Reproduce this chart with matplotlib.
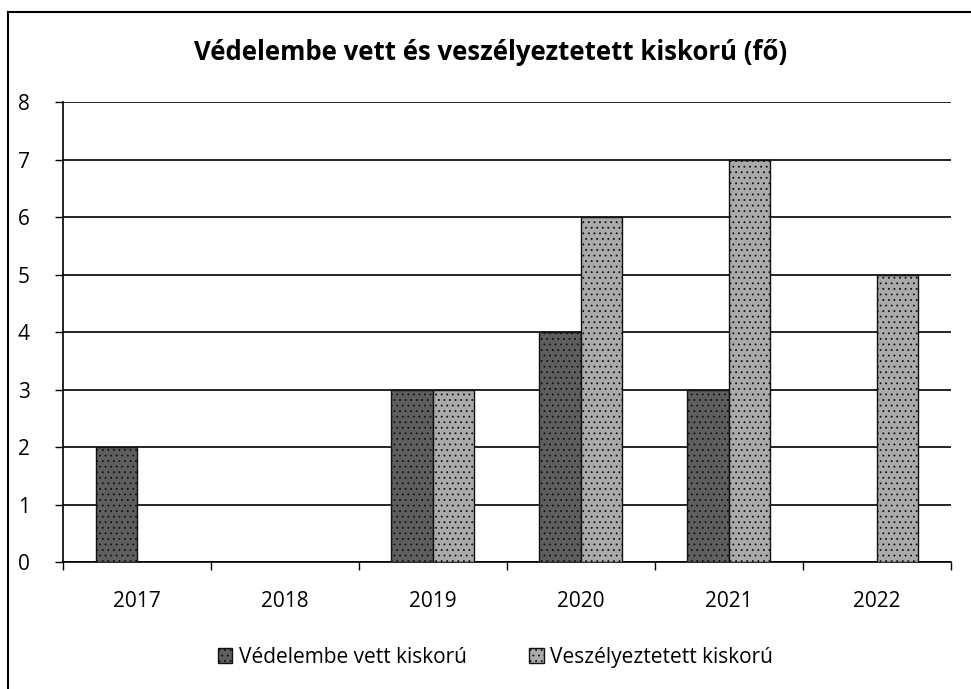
import matplotlib
matplotlib.use("Agg")
import matplotlib.pyplot as plt
from matplotlib.lines import Line2D
import numpy as np

years = ["2017", "2018", "2019", "2020", "2021", "2022"]
vedelembe = [2, 0, 3, 4, 3, 0]
veszelyeztetett = [0, 0, 3, 6, 7, 5]
series_names = ["Védelembe vett kiskorú", "Veszélyeztetett kiskorú"]
title = "Védelembe vett és veszélyeztetett kiskorú (fő)"

plt.rcParams['font.family'] = ['Open Sans', 'DejaVu Sans']
plt.rcParams['hatch.color'] = '#d0d0d0'
plt.rcParams['hatch.linewidth'] = 0.6

fig = plt.figure(figsize=(9.71, 6.89), dpi=100)
ax = fig.add_axes([0.065, 0.184, 0.914, 0.668])

x = np.arange(len(years))
w = 0.28
ax.bar(x - w/2, vedelembe, width=w, color="#5e5e5e", edgecolor="#111111", linewidth=1.0,
       hatch="...", label=series_names[0], zorder=3)
ax.bar(x + w/2, veszelyeztetett, width=w, color="#aaaaaa", edgecolor="#111111", linewidth=1.0,
       hatch="...", label=series_names[1], zorder=3)

ax.set_xlim(-0.5, len(years) - 0.5)
ax.set_ylim(0, 8)
ax.set_yticks(range(0, 9))
ax.yaxis.grid(True, color="black", linewidth=1.2, zorder=0)
ax.set_axisbelow(True)
ax.set_xticks(x)
ax.set_xticklabels(years, fontsize=15)
ax.set_xticks(np.arange(-0.5, len(years)), minor=True)
ax.tick_params(axis='x', which='major', length=0, pad=21)
ax.tick_params(axis='x', which='minor', length=6, width=1, color='black', direction='out')
ax.tick_params(axis='y', length=6, width=1, labelsize=15, pad=18, direction='out')
for s in ['top', 'right']:
    ax.spines[s].set_visible(False)
ax.spines['left'].set_color('black')
ax.spines['bottom'].set_color('black')
ax.spines['left'].set_linewidth(1.2)
ax.spines['bottom'].set_linewidth(1.2)

fig.text(0.505, 0.924, title, ha='center', va='center', fontsize=18.5, fontweight='bold')

leg = fig.legend(loc='center', bbox_to_anchor=(0.51, 0.046), ncol=2, frameon=False,
                 fontsize=15, handlelength=0.7, handleheight=0.7, columnspacing=3.0,
                 handletextpad=0.3)

# outer frame lines (left and top)
fig.add_artist(Line2D([0.008, 0.008], [0.0, 0.983], color='black', linewidth=1.5, transform=fig.transFigure))
fig.add_artist(Line2D([0.008, 1.0], [0.983, 0.983], color='black', linewidth=1.5, transform=fig.transFigure))

fig.savefig("out.png", dpi=100)
